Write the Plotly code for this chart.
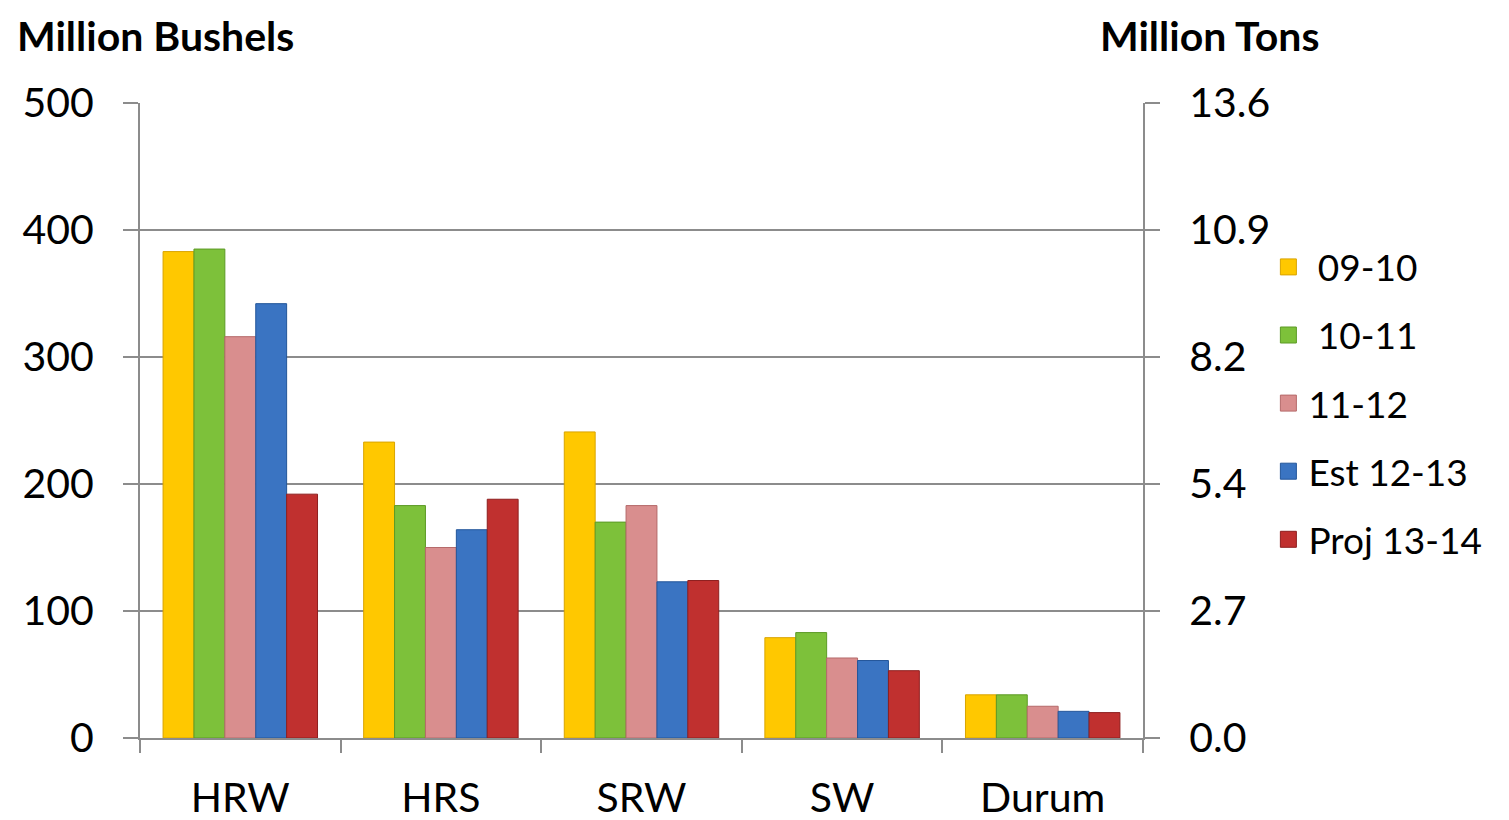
import plotly.graph_objects as go

categories = ["HRW", "HRS", "SRW", "SW", "Durum"]
series_names = [" 09-10", " 10-11", "11-12", "Est 12-13", "Proj 13-14"]
v_0910 = [383, 233, 241, 79, 34]
v_1011 = [385, 183, 170, 83, 34]
v_1112 = [316, 150, 183, 63, 25]
v_1213 = [342, 164, 123, 61, 21]
v_1314 = [192, 188, 124, 53, 20]
left_ticks = [0, 100, 200, 300, 400, 500]
right_tick_labels = ["0.0", "2.7", "5.4", "8.2", "10.9", "13.6"]

colors = ["#FFC800", "#7DC13A", "#D98E8E", "#3A74C2", "#C0302F"]
edges = ["#D9A400", "#5C9A25", "#B56A6A", "#23569A", "#8E1F1F"]
values = [v_0910, v_1011, v_1112, v_1213, v_1314]

FONT = "Lato, 'Open Sans', sans-serif"
fig = go.Figure()
for i, (name, vals) in enumerate(zip(series_names, values)):
    fig.add_trace(go.Bar(
        x=categories, y=vals, name=name, showlegend=False,
        marker=dict(color=colors[i], line=dict(color=edges[i], width=1)),
    ))
# legend proxies with larger square swatches
for i, name in enumerate(series_names):
    fig.add_trace(go.Scatter(
        x=[None], y=[None], name=name, mode="markers", legendgroup=name,
        marker=dict(symbol="square", size=16, color=colors[i],
                    line=dict(color=edges[i], width=1)),
    ))
# invisible trace to draw the right axis
fig.add_trace(go.Scatter(x=categories, y=[0]*5, yaxis="y2", showlegend=False,
                         mode="markers", marker=dict(opacity=0), hoverinfo="skip"))

fig.update_layout(
    width=1509, height=820,
    margin=dict(l=132, r=374, t=95, b=90, autoexpand=False),
    paper_bgcolor="white", plot_bgcolor="white",
    barmode="group", bargap=0.23, bargroupgap=0,
    font=dict(family=FONT, color="black"),
    showlegend=True,
    legend=dict(x=1.125, y=0.79, xanchor="left", yanchor="top",
                font=dict(size=37, family=FONT), tracegroupgap=17,
                itemsizing="trace", bgcolor="rgba(0,0,0,0)"),
    xaxis=dict(showline=True, linecolor="#8C8C8C", linewidth=2,
               ticks="outside", tickson="boundaries", ticklen=13,
               tickcolor="#8C8C8C", tickwidth=2, automargin=False,
               tickfont=dict(size=41, family=FONT), ticklabelstandoff=23),
    yaxis=dict(range=[0, 500], tickvals=left_ticks, automargin=False,
               showline=True, linecolor="#8C8C8C", linewidth=2,
               ticks="outside", ticklen=15, tickcolor="#8C8C8C", tickwidth=2,
               showgrid=True, gridcolor="#8C8C8C", gridwidth=1.5,
               zeroline=False,
               tickfont=dict(size=41, family=FONT), ticklabelstandoff=21),
    yaxis2=dict(range=[0, 500], overlaying="y", side="right", automargin=False,
                tickvals=left_ticks, ticktext=right_tick_labels,
                showline=True, linecolor="#8C8C8C", linewidth=2,
                ticks="outside", ticklen=15, tickcolor="#8C8C8C", tickwidth=2,
                showgrid=False, zeroline=False,
                tickfont=dict(size=41, family=FONT), ticklabelstandoff=21),
    annotations=[
        dict(text="<b>Million Bushels</b>", xref="paper", yref="paper",
             x=0, y=1.0, xanchor="left", yanchor="top",
             xshift=-125, yshift=94,
             showarrow=False, font=dict(size=41, family=FONT)),
        dict(text="<b>Million Tons</b>", xref="paper", yref="paper",
             x=1.0, y=1.0, xanchor="right", yanchor="middle",
             xshift=178, yshift=68,
             showarrow=False, font=dict(size=41, family=FONT)),
    ],
)
fig.write_html("out.html")
